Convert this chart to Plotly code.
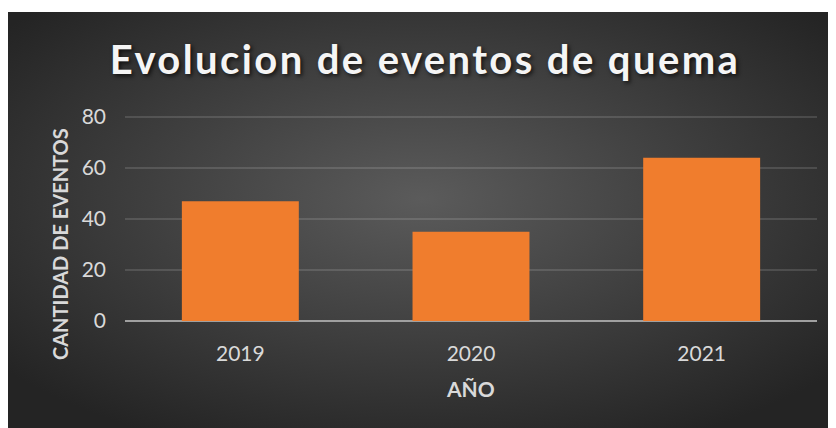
import base64
import plotly.graph_objects as go

years = ["2019", "2020", "2021"]
eventos = [47, 35, 64]
y_ticks = [0, 20, 40, 60, 80]

# page body has an 8px margin; figure sized to fit the window
W, H = 828, 420
OFF = 8
L = 125 - OFF
R = W - (817 - OFF)
Y0 = 321 - OFF          # pixel of value 0
Y80 = 117 - OFF         # pixel of value 80
YMAX = 80.4
ph = (Y0 - Y80) * YMAX / 80
T = round(Y0 - ph)
B = H - Y0
pw = W - L - R
ph = H - T - B

def px_x(x):
    return (x - OFF - L) / pw

def px_y(y):
    return (H - B - (y - OFF)) / ph

svg = (
    '<svg xmlns="http://www.w3.org/2000/svg" width="828" height="416" viewBox="0 0 828 416" preserveAspectRatio="none">'
    '<defs><radialGradient id="g" cx="50%" cy="45%" r="65%" fx="50%" fy="45%">'
    '<stop offset="0%" stop-color="#5b5b5b"/><stop offset="100%" stop-color="#242424"/>'
    '</radialGradient></defs><rect width="828" height="416" fill="url(#g)"/></svg>'
)
src = "data:image/svg+xml;base64," + base64.b64encode(svg.encode()).decode()

fig = go.Figure()
fig.add_trace(go.Bar(
    x=years, y=eventos, width=0.507,
    marker=dict(color="#f07d2d", line=dict(width=0)),
))

fig.add_layout_image(dict(
    source=src, xref="paper", yref="paper",
    x=px_x(8), y=px_y(12), sizex=px_x(836) - px_x(8), sizey=px_y(12) - px_y(428),
    xanchor="left", yanchor="top", sizing="stretch", layer="below",
))

tick_font = dict(family="Lato", size=21, color="#d9d9d9")
fig.update_layout(
    width=W, height=H,
    margin=dict(l=L, r=R, t=T, b=B, autoexpand=False),
    paper_bgcolor="white", plot_bgcolor="rgba(0,0,0,0)",
    showlegend=False,
    title=dict(
        text='<span style="letter-spacing:2.4px">Evolucion de eventos de quema</span>',
        x=(425 - OFF) / W, xref="container", xanchor="center",
        y=1 - (60 - OFF) / H, yref="container", yanchor="middle",
        font=dict(family="Lato", size=40, weight="bold", color="#f5f5f5",
                  shadow="2px 2px 4px rgba(0,0,0,0.7)"),
    ),
    xaxis=dict(
        showgrid=False, showline=False, zeroline=False,
        ticks="", tickfont=tick_font, ticklabelstandoff=18,
        fixedrange=True,
    ),
    yaxis=dict(
        range=[0, YMAX], tickvals=y_ticks, tickfont=tick_font,
        showgrid=True, gridcolor="rgba(255,255,255,0.13)", gridwidth=1.5,
        zeroline=True, zerolinecolor="#a0a0a0", zerolinewidth=2,
        showline=False, ticks="", ticklabelstandoff=18,
    ),
    annotations=[
        dict(text="<b>CANTIDAD DE EVENTOS</b>", textangle=-90,
             xref="paper", yref="paper", x=px_x(60), y=px_y(244),
             xanchor="center", yanchor="middle", showarrow=False,
             font=dict(family="Lato", size=20, color="#d9d9d9")),
        dict(text="<b>AÑO</b>",
             xref="paper", yref="paper", x=px_x(470), y=px_y(388),
             xanchor="center", yanchor="middle", showarrow=False,
             font=dict(family="Lato", size=21, color="#d9d9d9")),
    ],
)

fig.write_html("out.html")
